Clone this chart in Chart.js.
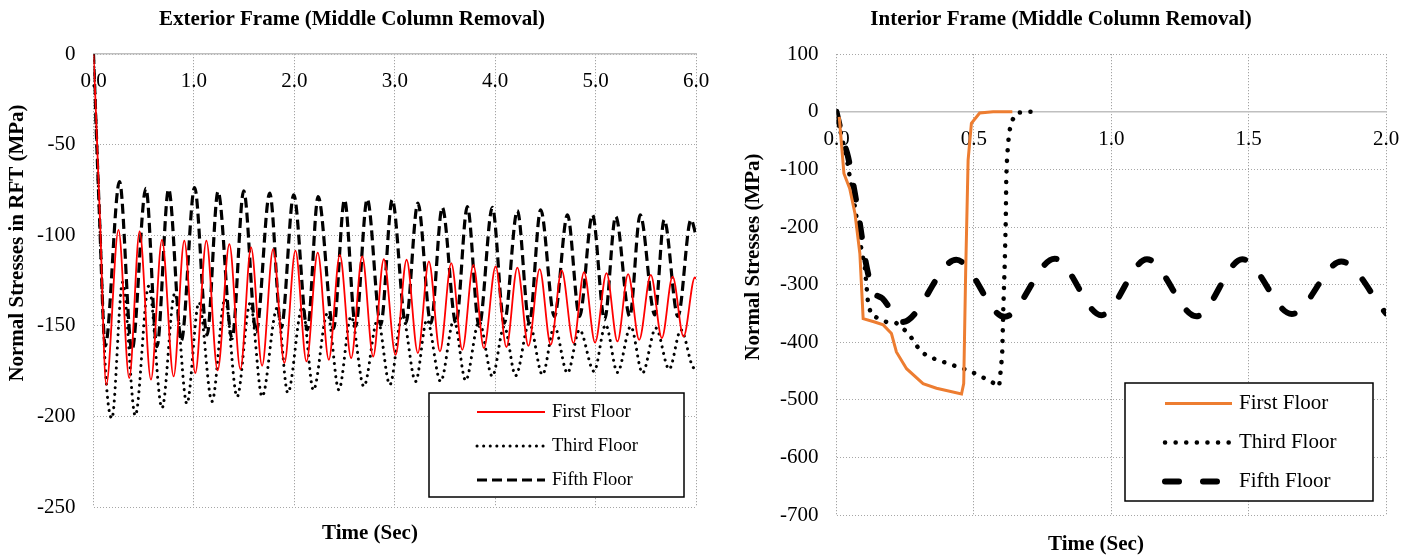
<!DOCTYPE html>
<html>
<head>
<meta charset="utf-8">
<script src="https://cdn.jsdelivr.net/npm/chart.js@4/dist/chart.umd.min.js"></script>
<style>
  body { margin: 0; background: #fff; }
  #wrap { position: relative; width: 1417px; height: 557px; }
  canvas { position: absolute; top: 0; }
  #extChart { left: 0; }
  #intChart { left: 710px; }
</style>
</head>
<body>
<div id="wrap">
  <canvas id="extChart" width="710" height="557"></canvas>
  <canvas id="intChart" width="707" height="557"></canvas>
</div>
<script>
// ---- Exterior frame (left) ----
const extTimeTicks = [0, 1, 2, 3, 4, 5, 6];
const extStressTicks = [0, -50, -100, -150, -200, -250];

const extFirstT = [0, 0.017, 0.067, 0.127, 0.249, 0.356, 0.459, 0.572, 0.682, 0.798, 0.904, 1.014, 1.124, 1.236, 1.353, 1.463, 1.569, 1.679, 1.789, 1.901, 2.011, 2.121, 2.233, 2.343, 2.453, 2.566, 2.676, 2.785, 2.891, 3.008, 3.118, 3.230, 3.340, 3.450, 3.563, 3.673, 3.783, 3.888, 4.005, 4.112, 4.221, 4.331, 4.443, 4.553, 4.662, 4.780, 4.885, 4.995, 5.109, 5.218, 5.324, 5.434, 5.550, 5.660, 5.767, 5.876, 5.989, 6.0];
const extFirstS = [0, -22, -95, -182.5, -97, -178.8, -97.9, -179.7, -102.5, -177.9, -103, -176, -103, -174.6, -104.9, -173.9, -106.7, -172, -107.6, -170.5, -108.4, -169.6, -109.5, -168.7, -110.8, -167.8, -111.7, -166.9, -113.2, -166, -113.5, -165, -114.4, -164.1, -115.4, -163.2, -116.3, -162.3, -117.2, -161.7, -117.8, -161, -118.7, -160.4, -119.4, -159.5, -120.3, -159.2, -120.9, -158.6, -121.4, -157.7, -121.8, -156.7, -122.8, -155.9, -123.3, -124];

const extThirdT = [0, 0.06, 0.12, 0.183, 0.29, 0.416, 0.55, 0.682, 0.81, 0.93, 1.05, 1.18, 1.31, 1.43, 1.56, 1.679, 1.83, 1.935, 2.08, 2.19, 2.33, 2.443, 2.565, 2.692, 2.83, 2.951, 3.075, 3.208, 3.32, 3.457, 3.59, 3.706, 3.84, 3.972, 4.09, 4.204, 4.34, 4.471, 4.59, 4.72, 4.84, 4.985, 5.1, 5.218, 5.35, 5.467, 5.6, 5.733, 5.85, 5.982, 6.0];
const extThirdS = [0, -90, -175, -201, -126, -199.5, -128, -195.4, -132, -193, -137, -191.7, -135, -189.2, -137.5, -189, -140, -187, -139.5, -185.5, -143, -185.3, -144.8, -183.4, -146.6, -182.5, -144, -180.7, -146.6, -180.7, -146.6, -180.2, -147.6, -177.9, -150.3, -177.5, -148.5, -177, -150.3, -176, -152.2, -175.1, -149.4, -175.7, -150.3, -176, -151.2, -173.9, -152.2, -173.3, -172];

const extFifthT = [0, 0.06, 0.117, 0.259, 0.383, 0.522, 0.632, 0.748, 0.875, 1.007, 1.131, 1.24, 1.38, 1.496, 1.62, 1.755, 1.87, 1.994, 2.13, 2.237, 2.39, 2.5, 2.61, 2.726, 2.86, 2.975, 3.11, 3.23, 3.36, 3.473, 3.61, 3.723, 3.84, 3.972, 4.09, 4.221, 4.34, 4.453, 4.59, 4.72, 4.84, 4.969, 5.09, 5.2, 5.34, 5.444, 5.59, 5.683, 5.82, 5.95, 6.0];
const extFifthS = [0, -90, -161, -70.3, -163.5, -74, -161.5, -74.5, -158, -73.6, -155, -75.8, -157, -75.4, -153.5, -76.7, -151, -77.6, -152.2, -78.6, -151.5, -80.4, -150.3, -80, -149.4, -80.4, -148.5, -82.2, -148.5, -84.6, -148.5, -84.1, -150.3, -84.6, -148.5, -86.3, -148.5, -85.9, -144.8, -88.7, -144.8, -88.7, -146.6, -89.6, -144.8, -88.7, -143.9, -91.4, -144.8, -91.4, -100];

// ---- Interior frame (right) ----
const intTimeTicks = [0, 0.5, 1, 1.5, 2];
const intStressTicks = [100, 0, -100, -200, -300, -400, -500, -600, -700];

const intFirstT = [0.01, 0.027, 0.048, 0.067, 0.085, 0.097, 0.139, 0.17, 0.2, 0.218, 0.255, 0.315, 0.364, 0.455, 0.463, 0.47, 0.479, 0.491, 0.521, 0.57, 0.64];
const intFirstS = [-9, -107, -133, -176, -246, -359, -365, -370, -385, -417, -446, -472, -480, -490, -472, -281, -84, -20, -2, 0, 0];

const intThirdT = [0, 0.012, 0.036, 0.067, 0.091, 0.103, 0.115, 0.127, 0.182, 0.218, 0.261, 0.303, 0.333, 0.412, 0.485, 0.558, 0.592, 0.603, 0.607, 0.612, 0.616, 0.618, 0.621, 0.628, 0.637, 0.655, 0.697, 0.74];
const intThirdS = [0, -29, -78, -165, -240, -269, -333, -353, -365, -367, -384, -414, -425, -438, -450, -467, -477, -422, -344, -269, -191, -113, -78, -37, -17, -2, 0, 0];

const intFifthT = [0, 0.024, 0.042, 0.067, 0.085, 0.103, 0.115, 0.127, 0.167, 0.24, 0.436, 0.612, 0.794, 0.964, 1.13, 1.31, 1.477, 1.657, 1.837, 2.0];
const intFifthS = [0, -49, -78, -142, -194, -252, -281, -307, -324, -365, -257, -356, -255, -353, -256, -355, -256, -351, -260, -350];

const pts = (ts, ss) => ts.map((t, i) => ({x: t, y: ss[i]}));

Chart.defaults.font.family = '"Liberation Serif", "Times New Roman", serif';
Chart.defaults.color = '#000';

// boxed legend + axis titles drawn on top of the plot
const panelExtras = {
  id: 'panelExtras',
  afterDraw(chart, args, opts) {
    const ctx = chart.ctx;
    const lg = opts.legend;
    ctx.save();
    ctx.fillStyle = '#fff';
    ctx.fillRect(lg.x, lg.y, lg.w, lg.h);
    ctx.lineWidth = 1.5;
    ctx.strokeStyle = '#000';
    ctx.strokeRect(lg.x, lg.y, lg.w, lg.h);
    ctx.font = lg.fontSize + 'px "Liberation Serif"';
    ctx.textBaseline = 'middle';
    ctx.textAlign = 'left';
    chart.data.datasets.forEach((ds, i) => {
      const y = lg.y + lg.firstRow + i * lg.rowGap;
      ctx.save();
      ctx.strokeStyle = ds.borderColor;
      ctx.lineWidth = ds.borderWidth;
      ctx.lineCap = ds.borderCapStyle || 'butt';
      ctx.setLineDash(ds.borderDash || []);
      ctx.beginPath();
      ctx.moveTo(lg.x + lg.lineStart, y);
      ctx.lineTo(lg.x + lg.lineEnd, y);
      ctx.stroke();
      ctx.restore();
      ctx.fillStyle = '#000';
      ctx.fillText(ds.label, lg.x + lg.textStart, y);
    });
    ctx.font = 'bold 21px "Liberation Serif"';
    ctx.textAlign = 'center';
    ctx.fillText(opts.xTitle.text, opts.xTitle.x, opts.xTitle.y);
    ctx.translate(opts.yTitle.x, opts.yTitle.y);
    ctx.rotate(-Math.PI / 2);
    ctx.fillText(opts.yTitle.text, 0, 0);
    ctx.restore();
  }
};

function panelOptions(o) {
  return {
    responsive: false,
    animation: false,
    layout: { padding: o.padding },
    elements: { point: { radius: 0 } },
    plugins: {
      legend: { display: false },
      tooltip: { enabled: false },
      title: {
        display: true,
        text: o.title,
        font: { size: 21, weight: 'bold' },
        padding: { top: 7, bottom: 22 }
      },
      panelExtras: o.extras
    },
    scales: {
      x: {
        type: 'linear',
        min: o.xTicks[0],
        max: o.xTicks[o.xTicks.length - 1],
        position: { y: 0 },
        afterBuildTicks: s => { s.ticks = o.xTicks.map(v => ({value: v})); },
        ticks: { callback: v => v.toFixed(1), font: { size: 21 }, padding: 0, maxRotation: 0, autoSkip: false },
        grid: { color: '#8f8f8f', lineWidth: 1, drawTicks: true, tickLength: 15, tickColor: 'rgba(0,0,0,0)' },
        border: { display: true, color: '#bfbfbf', width: 1.5, dash: [1, 2] }
      },
      y: {
        min: o.yTicks[o.yTicks.length - 1],
        max: o.yTicks[0],
        afterBuildTicks: s => { s.ticks = o.yTicks.map(v => ({value: v})); },
        afterFit: s => { s.width = o.axisWidth; },
        ticks: { callback: v => String(v), font: { size: 21 }, padding: 18 },
        grid: { color: '#a6a6a6', lineWidth: 1, drawTicks: false },
        border: { display: false, dash: [1, 2] }
      }
    }
  };
}

new Chart(document.getElementById('extChart'), {
  type: 'line',
  data: {
    datasets: [
      { label: 'First Floor', data: pts(extFirstT, extFirstS), borderColor: '#ff0000', borderWidth: 1.8, cubicInterpolationMode: 'monotone' },
      { label: 'Third Floor', data: pts(extThirdT, extThirdS), borderColor: '#000000', borderWidth: 3, borderDash: [0.1, 6.5], borderCapStyle: 'round', cubicInterpolationMode: 'monotone' },
      { label: 'Fifth Floor', data: pts(extFifthT, extFifthS), borderColor: '#000000', borderWidth: 3.2, borderDash: [10, 5], cubicInterpolationMode: 'monotone' }
    ]
  },
  options: panelOptions({
    title: 'Exterior Frame (Middle Column Removal)',
    padding: { left: 8, right: 14, top: 0, bottom: 50 },
    axisWidth: 85.5,
    xTicks: extTimeTicks,
    yTicks: extStressTicks,
    extras: {
      legend: { x: 429, y: 393, w: 255, h: 104, firstRow: 19, rowGap: 34, lineStart: 48, lineEnd: 116, textStart: 123, fontSize: 18.5 },
      xTitle: { text: 'Time (Sec)', x: 370, y: 534 },
      yTitle: { text: 'Normal Stresses in RFT (MPa)', x: 18, y: 243 }
    }
  }),
  plugins: [panelExtras]
});

new Chart(document.getElementById('intChart'), {
  type: 'line',
  data: {
    datasets: [
      { label: 'First Floor', data: pts(intFirstT, intFirstS), borderColor: '#ed7d31', borderWidth: 3 },
      { label: 'Third Floor', data: pts(intThirdT, intThirdS), borderColor: '#000000', borderWidth: 4.5, borderDash: [0.1, 10.5], borderCapStyle: 'round' },
      { label: 'Fifth Floor', data: pts(intFifthT, intFifthS), borderColor: '#000000', borderWidth: 6, borderDash: [14, 24], borderCapStyle: 'round', cubicInterpolationMode: 'monotone' }
    ]
  },
  options: panelOptions({
    title: 'Interior Frame (Middle Column Removal)',
    padding: { left: 26, right: 31, top: 0, bottom: 42 },
    axisWidth: 100.5,
    xTicks: intTimeTicks,
    yTicks: intStressTicks,
    extras: {
      legend: { x: 415, y: 383, w: 248, h: 118, firstRow: 20.5, rowGap: 39, lineStart: 40, lineEnd: 107, textStart: 114, fontSize: 21 },
      xTitle: { text: 'Time (Sec)', x: 386, y: 545 },
      yTitle: { text: 'Normal Stresses (MPa)', x: 44, y: 257 }
    }
  }),
  plugins: [panelExtras]
});
</script>
</body>
</html>
